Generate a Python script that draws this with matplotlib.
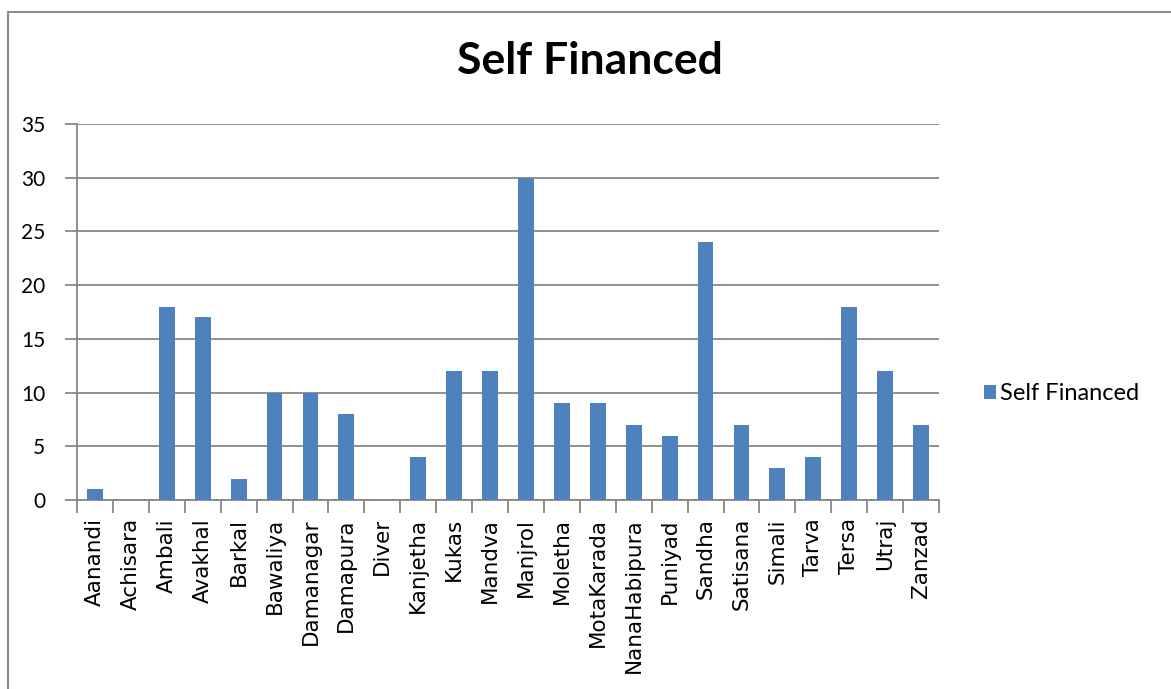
import matplotlib.pyplot as plt
from matplotlib.patches import Rectangle

# villages and their self-financed counts
villages = ['Aanandi', 'Achisara', 'Ambali', 'Avakhal', 'Barkal', 'Bawaliya',
            'Damanagar', 'Damapura', 'Diver', 'Kanjetha', 'Kukas', 'Mandva',
            'Manjrol', 'Moletha', 'MotaKarada', 'NanaHabipura', 'Puniyad',
            'Sandha', 'Satisana', 'Simali', 'Tarva', 'Tersa', 'Utraj', 'Zanzad']
self_financed = [1, 0, 18, 17, 2, 10, 10, 8, 0, 4, 12, 12,
                 30, 9, 9, 7, 6, 24, 7, 3, 4, 18, 12, 7]
y_ticks = [0, 5, 10, 15, 20, 25, 30, 35]

BAR = '#4F81BD'
GRID = '#878787'

fig = plt.figure(figsize=(11.71, 6.89), dpi=100)
W, H = 1171, 689

# outer chart frame
fig.patches.append(Rectangle((7.5 / W, -0.1), 1.2, 1 - 11.5 / H + 0.1,
                             transform=fig.transFigure, fill=False,
                             edgecolor='#8c8c8c', linewidth=1.5))

ax = fig.add_axes([77 / W, 1 - 500 / H, (939 - 77) / W, (500 - 124) / H])
x = range(len(villages))
ax.bar(x, self_financed, width=0.44, color=BAR, zorder=3,
       label='Self Financed')

ax.set_xlim(-0.5, len(villages) - 0.5)
ax.set_ylim(0, 35)
ax.set_yticks(y_ticks)
ax.set_yticklabels([str(v) for v in y_ticks], fontfamily='Lato', fontsize=15)
ax.yaxis.grid(True, color=GRID, linewidth=1.3, zorder=0)
ax.tick_params(axis='y', length=9, color=GRID, width=1.3, pad=14)

# category ticks sit between bars, labels at bar centres
ax.set_xticks([i - 0.5 for i in range(len(villages) + 1)])
ax.set_xticklabels([])
ax.set_xticks(list(x), minor=True)
ax.set_xticklabels(villages, minor=True, rotation=90, fontfamily='DejaVu Sans',
                   fontsize=15.5)
ax.tick_params(axis='x', which='major', length=9, color=GRID, width=1.3)
ax.tick_params(axis='x', which='minor', length=0, pad=13)

for side in ['top', 'right']:
    ax.spines[side].set_visible(False)
for side in ['left', 'bottom']:
    ax.spines[side].set_color(GRID)
    ax.spines[side].set_linewidth(1.3)

fig.text(590 / W, 1 - 61 / H, 'Self Financed', ha='center', va='center',
         fontfamily='Lato', fontweight='bold', fontsize=32)

ax.legend(loc='center left', bbox_to_anchor=(963 / W, 1 - 394 / H),
          bbox_transform=fig.transFigure, frameon=False,
          prop={'family': 'Lato', 'size': 17}, handlelength=0.5,
          handleheight=0.5, handletextpad=0.15)

fig.savefig('out.png', dpi=100)
